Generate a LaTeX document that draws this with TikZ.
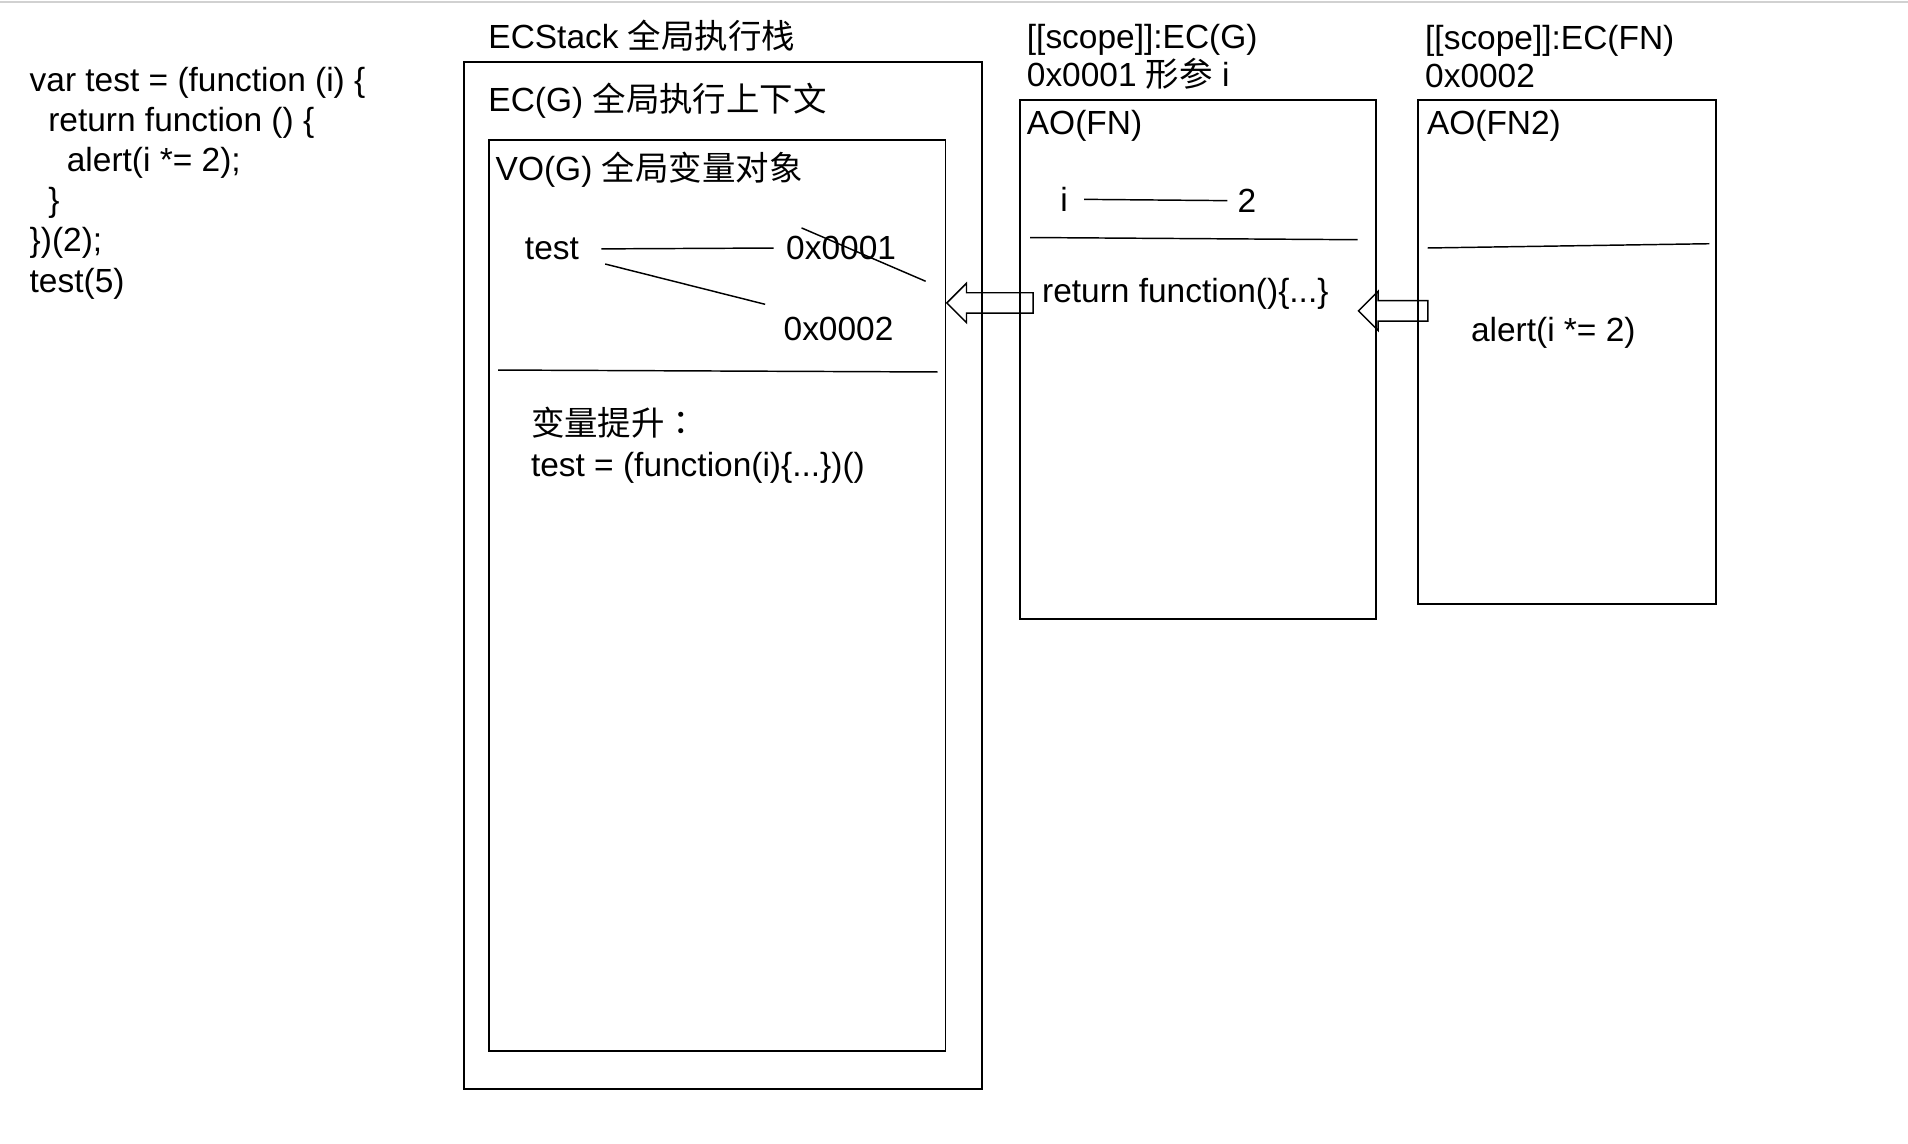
\documentclass[tikz,border=0pt]{standalone}
\usepackage{fontspec}
\setmainfont{Liberation Sans}
\newfontfamily\cjk{Noto Sans CJK SC}
\newfontfamily\cjkpunct{Noto Sans CJK TC}
\usetikzlibrary{shapes.arrows}
\newcommand{\zh}[1]{{\cjk #1}}
\newcommand{\lblfont}{\fontsize{13.75pt}{16.5pt}\selectfont}
\tikzset{box/.style={draw, line width=0.8pt}}
\tikzset{txt/.style={anchor=base west, inner sep=0pt, font=\lblfont}}
\tikzset{link/.style={line width=0.6pt}}
\tikzset{hollow/.style={draw, single arrow, shape border rotate=180, line width=0.6pt,
  inner xsep=0pt, inner ysep=3.9pt, single arrow head extend=3.9pt,
  single arrow tip angle=90, minimum height=#1, anchor=tip}}

\begin{document}
\begin{tikzpicture}[x=0.5pt, y=-0.5pt]
        \useasboundingbox (0,0) rectangle (1568,940);
        \draw[line width=1pt, black!18] (0,1.5) -- (1568,1.5);

        % source code
        \node[txt] (c1) at (24,75) {var test = (function (i) \{};
        \node[txt] (c2) at (24,108) {\ \ return function () \{};
        \node[txt] (c3) at (24,141) {\ \ \ \ alert(i *= 2);};
        \node[txt] (c4) at (24,174) {\ \ \}};
        \node[txt] (c5) at (24,207) {\})(2);};
        \node[txt] (c6) at (24,240) {test(5)};

        % global stack
        \draw[box] (381,51) rectangle (807,895);
        \draw[box] (402,115) rectangle (777,864);
        \node[txt] (ecs) at (401,40) {ECStack \zh{全局执行栈}};
        \node[txt] (ecg) at (401,92) {EC(G) \zh{全局执行上下文}};
        \node[txt] (vog) at (407,148.5) {VO(G) \zh{全局变量对象}};

        \node[txt] (tst) at (431,213.3) {test};
        \node[txt] (p1) at (645.7,213.3) {0x0001};
        \node[txt] (p2) at (643.6,279.9) {0x0002};
        \draw[link] ([xshift=9pt]tst.east) -- ([xshift=-5pt]p1.west);
        \draw[link] ([xshift=10.6pt,yshift=-1.5pt]tst.south east) -- ([xshift=-7.4pt,yshift=5.1pt]p2.north west);
        \draw[link] ([xshift=6.5pt,yshift=3.2pt]p1.north west) -- ([xshift=12pt,yshift=-8.6pt]p1.south east);
        \draw[link] (409.3,304.1) -- (770.5,305.7);

        \node[txt] (hoist) at (436,358) {\zh{变量提升}{\cjkpunct ：}};
        \node[txt] (hval) at (436,391.6) {test = (function(i)\{...\})()};

        % AO(FN)
        \node[txt] (scg) at (843.5,40) {[[scope]]:EC(G)};
        \node[txt] (adr1) at (843.5,71) {0x0001 \zh{形参} i};
        \draw[box] (838,82) rectangle (1131,509);
        \node[txt] (aofn) at (843.5,110.7) {AO(FN)};
        \node[txt] (vi) at (871,173.8) {i};
        \node[txt] (v2) at (1016.7,174.5) {2};
        \draw[link] ([xshift=6.5pt]vi.east) -- ([xshift=-4pt]v2.west);
        \draw[link] (846.5,195.2) -- (1115.6,197);
        \node[txt] (ret) at (856,248.7) {return function()\{...\}};

        % AO(FN2)
        \node[txt] (scfn) at (1170.8,41) {[[scope]]:EC(FN)};
        \node[txt] (adr2) at (1170.8,72.2) {0x0002};
        \draw[box] (1165,82) rectangle (1410,496);
        \node[txt] (aofn2) at (1172.3,110.7) {AO(FN2)};
        \draw[link] (1173.3,203.8) -- (1404.7,200.3);
        \node[txt] (alrt) at (1208.5,280.4) {alert(i *= 2)};

        % scope chain
        \node[hollow=35.5pt] (back1) at (777.2,249) {};
        \node[hollow=28.5pt] (back2) at (1115.5,255.5) {};
\end{tikzpicture}
\end{document}
